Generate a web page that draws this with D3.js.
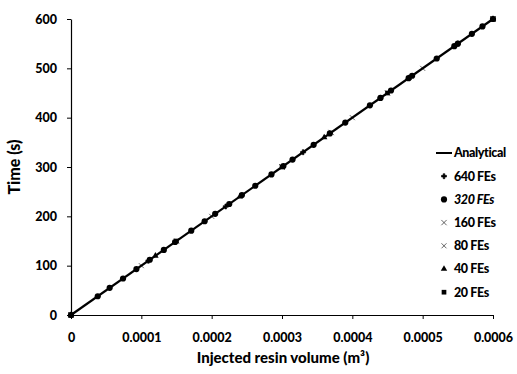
<!DOCTYPE html>
<html><head><meta charset="utf-8">
<script src="https://cdn.jsdelivr.net/npm/d3@7"></script>
<style>body{margin:0;background:#fff}svg{display:block}</style>
</head><body><div id="c"></div>
<script>
const xTicks = [0, 0.0001, 0.0002, 0.0003, 0.0004, 0.0005, 0.0006];
const xTickLabels = ["0", "0.0001", "0.0002", "0.0003", "0.0004", "0.0005", "0.0006"];
const yTicks = [0, 100, 200, 300, 400, 500, 600];
const analyticalV = [0, 0.0006];
const analyticalT = [0, 600];
// volume (m^3) samples per series; time (s) arrays
const v640 = [0, 0.00011, 0.00022, 0.00033, 0.00044, 0.00055, 0.0006];
const t640 = [0, 110, 220, 330, 440, 550, 600];
const v320 = [0, 0.000038, 0.000055, 0.000074, 0.000093, 0.000112, 0.000132, 0.000148, 0.000171, 0.00019, 0.000205, 0.000225, 0.000243, 0.000262, 0.000285, 0.000302, 0.000315, 0.000345, 0.000368, 0.00039, 0.000425, 0.00044, 0.000455, 0.00048, 0.000485, 0.00052, 0.000545, 0.00055, 0.00057, 0.000585, 0.0006];
const t320 = [0, 38, 55, 74, 93, 112, 132, 148, 171, 190, 205, 225, 243, 262, 285, 302, 315, 345, 368, 390, 425, 440, 455, 480, 485, 520, 545, 550, 570, 585, 600];
const v160 = [0, 0.00015, 0.0003, 0.00037, 0.00045, 0.0006];
const t160 = [0, 150, 300, 370, 450, 600];
const v80 = [0, 0.0001, 0.0002, 0.0003, 0.0004, 0.0005, 0.0006];
const t80 = [0, 100, 200, 300, 400, 500, 600];
const v40 = [0, 0.00012, 0.00024, 0.00036, 0.00048, 0.0006];
const t40 = [0, 120, 240, 360, 480, 600];
const v20 = [0, 0.00015, 0.0003, 0.00045, 0.0006];
const t20 = [0, 150, 300, 450, 600];
const legendLabels = ["Analytical", "640 FEs", "320 FEs", "160 FEs", "80 FEs", "40 FEs", "20 FEs"];

const W = 517, H = 374;
const m = {l: 71, t: 19, r: 517 - 493, b: 374 - 315};
const svg = d3.select("#c").append("svg").attr("width", W).attr("height", H);
const x = d3.scaleLinear().domain([0, 0.0006]).range([m.l, W - m.r]);
const y = d3.scaleLinear().domain([0, 600]).range([H - m.b, m.t]);
const font = "Lato, 'Open Sans', sans-serif";

const xAxis = svg.append("g").attr("transform", `translate(0,${y(0)})`)
  .call(d3.axisBottom(x).tickValues(xTicks).tickFormat((d, i) => xTickLabels[i]).tickSize(4).tickPadding(14).tickSizeOuter(0));
const yAxis = svg.append("g").attr("transform", `translate(${x(0)},0)`)
  .call(d3.axisLeft(y).tickValues(yTicks).tickSize(4).tickPadding(10).tickSizeOuter(0));
[xAxis, yAxis].forEach(g => {
  g.select(".domain").attr("stroke", "#000").attr("stroke-width", 1.2);
  g.selectAll(".tick line").attr("stroke", "#000");
  g.selectAll("text").attr("font-family", font).attr("font-weight", 900).attr("font-size", 12.5).attr("fill", "#000");
});

svg.append("text").attr("x", (x(0) + x(0.0006)) / 2 + 1).attr("y", 363).attr("text-anchor", "middle")
  .attr("font-family", font).attr("font-weight", 900).attr("font-size", 15)
  .text("Injected resin volume (m³)");
svg.append("text").attr("transform", `translate(20,${(y(0) + y(600)) / 2}) rotate(-90)`).attr("text-anchor", "middle")
  .attr("font-family", font).attr("font-weight", 900).attr("font-size", 16).text("Time (s)");

const line = d3.line().x(d => x(d[0])).y(d => y(d[1]));
svg.append("path").datum(analyticalV.map((v, i) => [v, analyticalT[i]]))
  .attr("d", line).attr("stroke", "#000").attr("stroke-width", 2.2).attr("fill", "none");

const series = [
  {v: v640, t: t640, sym: d3.symbolCross, size: 14},
  {v: v320, t: t320, sym: d3.symbolCircle, size: 30},
  {v: v160, t: t160, sym: d3.symbolTimes, size: 20},
  {v: v80, t: t80, sym: d3.symbolTimes, size: 18},
  {v: v40, t: t40, sym: d3.symbolTriangle, size: 18},
  {v: v20, t: t20, sym: d3.symbolSquare, size: 22}
];
series.forEach(s => {
  const stroke = s.sym === d3.symbolTimes || s.sym === d3.symbolCross;
  svg.append("g").selectAll("path").data(s.v.map((v, i) => [v, s.t[i]])).join("path")
    .attr("transform", d => `translate(${x(d[0])},${y(d[1])})`)
    .attr("d", d3.symbol(s.sym, s.size))
    .attr("fill", "#000").attr("stroke", stroke ? "#000" : "none").attr("stroke-width", 0.6);
});

// legend
const lg = svg.append("g");
const ly0 = 153, ldy = 23.2, lx = 444;
legendLabels.forEach((lab, i) => {
  const yy = ly0 + i * ldy;
  if (i === 0) {
    lg.append("line").attr("x1", 436).attr("x2", 452).attr("y1", yy).attr("y2", yy).attr("stroke", "#000").attr("stroke-width", 2);
  } else {
    const s = series[i - 1];
    const stroke = s.sym === d3.symbolTimes || s.sym === d3.symbolCross;
    lg.append("path").attr("transform", `translate(${lx},${yy})`).attr("d", d3.symbol(s.sym, s.size))
      .attr("fill", "#000").attr("stroke", stroke ? "#000" : "none").attr("stroke-width", 0.6);
  }
  lg.append("text").attr("x", 454).attr("y", yy).attr("dy", "0.35em")
    .attr("font-family", font).attr("font-weight", 900).attr("font-size", 12.5)
    .attr("font-style", i === 2 ? "italic" : "normal").attr("letter-spacing", -0.4).text(lab);
});
</script></body></html>
